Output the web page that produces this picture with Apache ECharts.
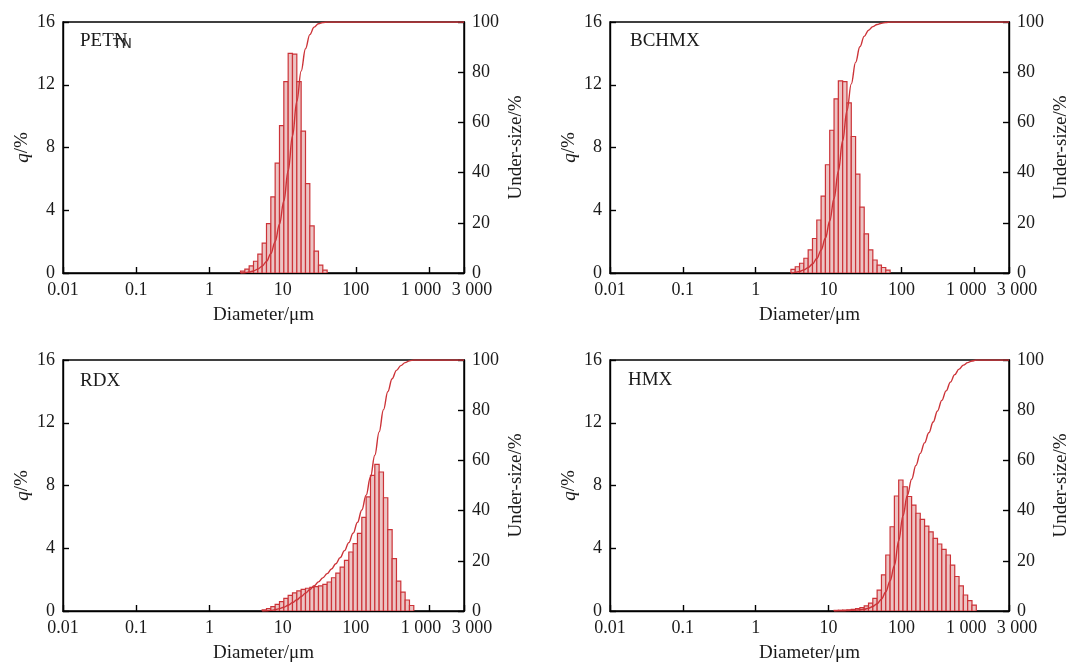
<!DOCTYPE html>
<html>
<head>
<meta charset="utf-8">
<script src="https://cdn.jsdelivr.net/npm/echarts@6/dist/echarts.min.js"></script>
<style>html,body{margin:0;padding:0;background:#fff}#c{width:1072px;height:666px}</style>
</head>
<body>
<div id="c"></div>
<script>
// Bin edges (µm) of the size classes, log spaced
const EDGES = [2.658, 3.046, 3.490, 4.000, 4.583, 5.253, 6.019, 6.898, 7.904, 9.058,
  10.38, 11.90, 13.63, 15.62, 17.90, 20.52, 23.51, 26.94, 30.87, 35.38,
  40.54, 46.46, 53.24, 61.01, 69.92, 80.12, 91.82, 105.2, 120.6, 138.2,
  158.4, 181.5, 208.0, 238.3, 273.1, 313.0, 358.7, 411.1, 471.1, 539.8,
  618.6, 708.9, 812.4, 931.0, 1067];

const X_MIN = 0.01, X_MAX = 3000;
const Q_TICKS = [0, 4, 8, 12, 16];
const U_TICKS = [0, 20, 40, 60, 80, 100];

const NAMES = ['PETN', 'BCHMX', 'RDX', 'HMX'];

// q/% per bin, starting at bin index *_FIRST
const PETN_FIRST = 0;
const PETN_Q = [0.12, 0.25, 0.45, 0.75, 1.2, 1.9, 3.15, 4.85, 7.0, 9.4,
  12.2, 14.0, 13.95, 12.2, 9.05, 5.7, 3.0, 1.4, 0.5, 0.18];
// under-size/% at the bin edges from the first bin
const PETN_U = [0, 0.12, 0.37, 0.81, 1.55, 2.74, 4.61, 7.72, 12.51, 19.43,
  28.71, 40.76, 54.59, 68.37, 80.41, 89.35, 94.98, 97.95, 99.33, 99.82, 100];

const BCHMX_FIRST = 1;
const BCHMX_Q = [0.23, 0.4, 0.62, 0.94, 1.47, 2.2, 3.38, 4.9, 6.9, 9.1,
  11.1, 12.25, 12.2, 10.85, 8.7, 6.3, 4.2, 2.5, 1.47, 0.83, 0.5, 0.35, 0.18];
const BCHMX_U = [0, 0.23, 0.62, 1.23, 2.16, 3.6, 5.77, 9.1, 13.92, 20.71,
  29.67, 40.6, 52.66, 64.67, 75.36, 83.92, 90.13, 94.26, 96.72, 98.17,
  98.99, 99.48, 99.82, 100];

const RDX_FIRST = 5;
const RDX_Q = [0.08, 0.15, 0.28, 0.42, 0.6, 0.8, 1.0, 1.15, 1.28, 1.38,
  1.45, 1.5, 1.55, 1.6, 1.7, 1.85, 2.12, 2.42, 2.8, 3.23,
  3.76, 4.3, 4.95, 5.97, 7.27, 8.65, 9.35, 8.86, 7.22, 5.19,
  3.34, 1.9, 1.2, 0.7, 0.35];
const RDX_U = [0, 0.08, 0.23, 0.51, 0.93, 1.52, 2.32, 3.32, 4.46, 5.74,
  7.11, 8.56, 10.05, 11.6, 13.19, 14.89, 16.73, 18.84, 21.25, 24.04,
  27.26, 31.01, 35.29, 40.22, 46.17, 53.41, 62.03, 71.35, 80.17, 87.37,
  92.54, 95.87, 97.76, 98.95, 99.65, 100];

const HMX_FIRST = 11;
const HMX_Q = [0.04, 0.05, 0.06, 0.08, 0.1, 0.15, 0.22, 0.33, 0.5, 0.8,
  1.33, 2.3, 3.57, 5.37, 7.33, 8.35, 7.92, 7.3, 6.75, 6.23,
  5.84, 5.41, 5.05, 4.63, 4.27, 3.93, 3.57, 2.93, 2.2, 1.6,
  1.02, 0.66, 0.38];
const HMX_U = [0, 0.04, 0.09, 0.15, 0.23, 0.33, 0.48, 0.7, 1.1, 1.8,
  2.9, 4.7, 7.6, 12.0, 18.0, 28.0, 38.0, 46.0, 52.5, 58.0,
  62.8, 67.0, 71.0, 75.3, 79.7, 83.9, 87.7, 91.2, 94.16, 96.35,
  97.95, 98.96, 99.62, 100];

const SAMPLES = [
  {first: PETN_FIRST, q: PETN_Q, u: PETN_U},
  {first: BCHMX_FIRST, q: BCHMX_Q, u: BCHMX_U},
  {first: RDX_FIRST, q: RDX_Q, u: RDX_U},
  {first: HMX_FIRST, q: HMX_Q, u: HMX_U}
];

const SERIF = '"Liberation Serif", "Times New Roman", serif';
const RED = '#cc3338';
const BAR_FILL = '#ecc4c4';
const INK = '#1a1a1a';

const GRIDS = [
  {left: 63, right: 608, top: 22, height: 251},
  {left: 610, right: 60, top: 22, height: 251},
  {left: 63, right: 608, top: 360, height: 251},
  {left: 610, right: 60, top: 360, height: 251}
];

function fmtX(v) {
  const n = +(+v).toPrecision(6);
  if (n === 1000) return '{l|1 000}';
  if (n === 3000) return '{r|3 000}';
  return '{n|' + n + '}';
}

const tickFont = {fontFamily: SERIF, fontSize: 18, color: INK};

const grid = [], xAxis = [], yAxis = [], series = [];
GRIDS.forEach((g, k) => {
  grid.push(Object.assign({show: true, borderColor: '#000', borderWidth: 1.4, backgroundColor: 'transparent'}, g));
  xAxis.push({
    type: 'log', logBase: 10, gridIndex: k, min: X_MIN, max: X_MAX,
    name: 'Diameter/μm', nameLocation: 'middle', nameGap: 33,
    nameTextStyle: {fontFamily: SERIF, fontSize: 19, color: INK},
    axisLine: {show: true, lineStyle: {color: '#000', width: 1.4}},
    axisTick: {show: true, inside: true, length: 6, lineStyle: {color: '#000', width: 1.4}},
    minorTick: {show: false},
    splitLine: {show: false},
    axisLabel: {show: true, margin: 8, showMinLabel: true, showMaxLabel: true, formatter: fmtX,
      rich: {n: tickFont, l: Object.assign({padding: [0, 16, 0, 0]}, tickFont), r: Object.assign({padding: [0, 0, 0, 16]}, tickFont)}}
  });
  yAxis.push({
    type: 'value', gridIndex: k, min: Q_TICKS[0], max: Q_TICKS[Q_TICKS.length - 1], interval: 4,
    position: 'left',
    name: '{i|q}{n|/%}', nameLocation: 'middle', nameGap: 31, nameRotate: 90,
    nameTextStyle: {rich: {i: {fontFamily: SERIF, fontSize: 19, fontStyle: 'italic', color: INK}, n: {fontFamily: SERIF, fontSize: 19, color: INK}}},
    axisLine: {show: true, lineStyle: {color: '#000', width: 1.4}},
    axisTick: {show: true, inside: true, length: 6, lineStyle: {color: '#000', width: 1.4}},
    splitLine: {show: false},
    axisLabel: Object.assign({margin: 8}, tickFont)
  });
  yAxis.push({
    type: 'value', gridIndex: k, min: U_TICKS[0], max: U_TICKS[U_TICKS.length - 1], interval: 20,
    position: 'right',
    name: 'Under-size/%', nameLocation: 'middle', nameGap: 43, nameRotate: 90,
    nameTextStyle: {fontFamily: SERIF, fontSize: 19, color: INK},
    axisLine: {show: true, lineStyle: {color: '#000', width: 1.4}},
    axisTick: {show: true, inside: true, length: 6, lineStyle: {color: '#000', width: 1.4}},
    splitLine: {show: false},
    axisLabel: Object.assign({margin: 8}, tickFont)
  });

  const s = SAMPLES[k];
  const bars = s.q.map((q, i) => [EDGES[s.first + i], EDGES[s.first + i + 1], q]);
  const curve = s.u.map((u, i) => [EDGES[s.first + i], u]);
  curve.push([X_MAX, 100]);

  series.push({
    type: 'custom', xAxisIndex: k, yAxisIndex: 2 * k, data: bars,
    encode: {x: [0, 1], y: 2}, clip: true, z: 2,
    renderItem: function (params, api) {
      const p0 = api.coord([api.value(0), api.value(2)]);
      const p1 = api.coord([api.value(1), 0]);
      return {type: 'rect', shape: {x: p0[0], y: p0[1], width: p1[0] - p0[0], height: p1[1] - p0[1]},
        style: {fill: BAR_FILL, stroke: RED, lineWidth: 1.2}};
    }
  });
  series.push({
    type: 'line', xAxisIndex: k, yAxisIndex: 2 * k + 1, data: curve,
    smooth: 0.4, smoothMonotone: 'x', showSymbol: false, symbol: 'none', z: 3,
    lineStyle: {color: RED, width: 1.4}
  });
});

const LABEL_POS = [[80, 42], [630, 42], [80, 382], [628, 381]];
const graphic = NAMES.map((t, k) => ({
  type: 'text', left: LABEL_POS[k][0], top: LABEL_POS[k][1] - 10,
  style: {text: t, font: '19px ' + SERIF, fill: INK}
}));
// overprinted fragment seen in the PETN label
graphic.push({type: 'text', left: 113, top: 37, style: {text: 'TN', font: '14px "DejaVu Sans", sans-serif', fill: '#333'}});

const chart = echarts.init(document.getElementById('c'), null, {renderer: 'canvas'});
chart.setOption({animation: false, backgroundColor: '#fff', grid, xAxis, yAxis, series, graphic});
</script>
</body>
</html>
